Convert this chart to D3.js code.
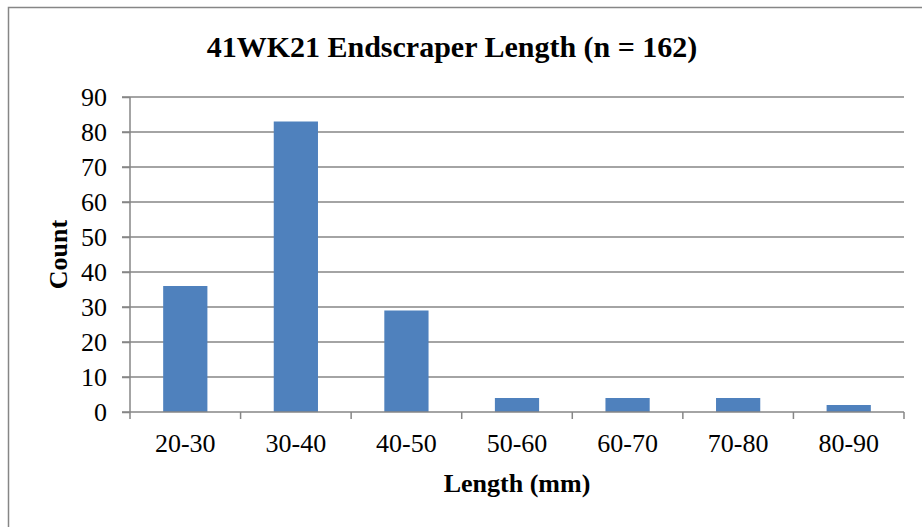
<!DOCTYPE html>
<html>
<head>
<meta charset="utf-8">
<script src="https://cdn.jsdelivr.net/npm/d3@7"></script>
<style>
  body { margin: 0; background: #fff; }
  svg { display: block; }
</style>
</head>
<body>
<script>
// bins and counts
const bins = ["20-30", "30-40", "40-50", "50-60", "60-70", "70-80", "80-90"];
const counts = [36, 83, 29, 4, 4, 4, 2];
const yTicks = [0, 10, 20, 30, 40, 50, 60, 70, 80, 90];

const W = 922, H = 527;
const plotLeft = 130, plotRight = 904, plotTop = 97, plotBottom = 412;
const grey = "#868686";
const serif = "'Liberation Serif', 'Times New Roman', serif";

const svg = d3.select("body")
              .append("svg")
              .attr("width", W)
              .attr("height", H)

// outer chart border (runs off the right and bottom edges)
svg.append("rect")
   .attr("x", 8.5)
   .attr("y", 7.5)
   .attr("width", 930)
   .attr("height", 540)
   .attr("fill", "#fff")
   .attr("stroke", grey)
   .attr("stroke-width", 1.5)

const x = d3.scaleBand()
            .domain(bins)
            .range([plotLeft, plotRight])
            .paddingInner(0.6)
            .paddingOuter(0.3)

const y = d3.scaleLinear()
            .domain([0, 90])
            .range([plotBottom, plotTop])

// gridlines
svg.append("g")
   .selectAll("line")
   .data(yTicks.filter(d => d > 0))
   .enter()
   .append("line")
   .attr("x1", plotLeft - 8)
   .attr("x2", plotRight)
   .attr("y1", d => y(d))
   .attr("y2", d => y(d))
   .attr("stroke", grey)
   .attr("stroke-width", 1.5)

// bars
svg.append("g")
   .selectAll("rect")
   .data(counts)
   .enter()
   .append("rect")
   .attr("x", (d, i) => x(bins[i]))
   .attr("y", d => y(d))
   .attr("width", x.bandwidth())
   .attr("height", d => plotBottom - y(d))
   .attr("fill", "#4F81BD")

// y axis
const yAxis = d3.axisLeft(y)
                .tickValues(yTicks)
                .tickSize(8)
                .tickPadding(15)
svg.append("g")
   .attr("transform", `translate(${plotLeft},0)`)
   .call(yAxis)
   .call(g => g.select(".domain").attr("stroke", grey).attr("stroke-width", 1.5).attr("d", `M0,${plotTop}V${plotBottom}`))
   .call(g => g.selectAll(".tick line").attr("stroke", grey).attr("stroke-width", 1.5))
   .call(g => g.selectAll(".tick text").attr("font-family", serif).attr("font-size", 26).attr("fill", "#000"))

// x axis: tick marks at category boundaries
const bounds = d3.range(bins.length + 1).map(i => plotLeft + i * (plotRight - plotLeft) / bins.length);
const xg = svg.append("g")
xg.append("line")
  .attr("x1", plotLeft - 8)
  .attr("x2", plotRight)
  .attr("y1", plotBottom)
  .attr("y2", plotBottom)
  .attr("stroke", grey)
  .attr("stroke-width", 1.5)
xg.selectAll(".xtick")
  .data(bounds)
  .enter()
  .append("line")
  .attr("class", "xtick")
  .attr("x1", d => d)
  .attr("x2", d => d)
  .attr("y1", plotBottom)
  .attr("y2", plotBottom + 7)
  .attr("stroke", grey)
  .attr("stroke-width", 1.5)
xg.selectAll("text")
  .data(bins)
  .enter()
  .append("text")
  .attr("x", d => x(d) + x.bandwidth() / 2)
  .attr("y", 452)
  .attr("text-anchor", "middle")
  .attr("font-family", serif)
  .attr("font-size", 26)
  .text(d => d)

// titles
svg.append("text")
   .attr("x", 452)
   .attr("y", 57)
   .attr("text-anchor", "middle")
   .attr("font-family", serif)
   .attr("font-weight", "bold")
   .attr("font-size", 30)
   .text("41WK21 Endscraper Length (n = 162)")

svg.append("text")
   .attr("x", (plotLeft + plotRight) / 2)
   .attr("y", 492)
   .attr("text-anchor", "middle")
   .attr("font-family", serif)
   .attr("font-weight", "bold")
   .attr("font-size", 26)
   .text("Length (mm)")

svg.append("text")
   .attr("transform", `translate(67,${(plotTop + plotBottom) / 2}) rotate(-90)`)
   .attr("text-anchor", "middle")
   .attr("font-family", serif)
   .attr("font-weight", "bold")
   .attr("font-size", 26)
   .text("Count")
</script>
</body>
</html>
